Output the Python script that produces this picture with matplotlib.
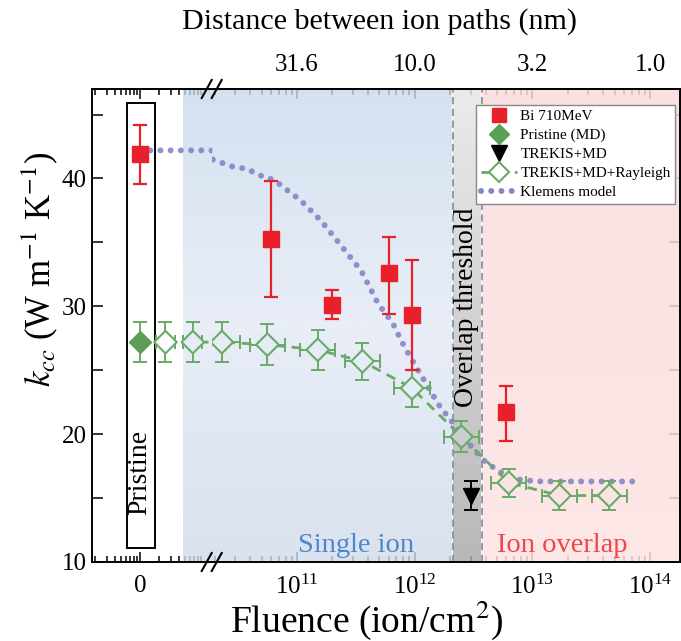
import numpy as np
import matplotlib.pyplot as plt
import matplotlib.colors as mcolors
from matplotlib.lines import Line2D
from matplotlib.patches import Rectangle
from matplotlib.ticker import LogLocator, NullFormatter, MultipleLocator

plt.rcParams['font.family'] = ['Liberation Serif', 'DejaVu Serif']
plt.rcParams['mathtext.fontset'] = 'stix'

# zero fluence (pristine) is drawn at this position of the compressed left segment
F_ZERO = 1e9

# Bi 710 MeV measurements
bi_fluence = [F_ZERO, 6e10, 2e11, 6e11, 9.5e11, 6e12]
bi_k = [41.95, 35.3, 30.1, 32.6, 29.3, 21.7]
bi_lo = [2.35, 4.6, 1.1, 3.2, 4.3, 2.2]
bi_hi = [2.25, 4.5, 1.15, 2.8, 4.3, 2.1]

# Pristine (MD)
md_fluence = [F_ZERO]
md_k = [27.2]
md_err = [1.55]

# TREKIS+MD
tr_fluence = [3e12]
tr_k = [15.2]
tr_err = [1.1]

# TREKIS+MD+Rayleigh
ray_fluence = [2.5e9, 6.7e9, 2.3e10, 5.6e10, 1.5e11, 3.6e11, 9.5e11, 2.5e12, 6.3e12, 1.7e13, 4.5e13]
ray_k = [27.2, 27.2, 27.2, 27.0, 26.6, 25.7, 23.6, 19.8, 16.2, 15.2, 15.2]
ray_err = [1.55, 1.55, 1.55, 1.6, 1.55, 1.45, 1.45, 1.2, 1.1, 1.1, 1.1]
ray_xerr_dec = 0.15

# Klemens model
kl_fluence = [F_ZERO, 1.3e10, 1.9e10, 2.34e10, 2.9e10, 3.5e10, 4.3e10, 5.1e10, 6.3e10, 7.4e10, 8.5e10,
              1.07e11, 1.6e11, 2.3e11, 3.5e11, 4.9e11, 6.5e11, 7.8e11, 9.5e11, 1.3e12, 1.6e12,
              2.1e12, 2.8e12, 3.8e12, 5.0e12, 6.5e12, 8.3e12, 1.2e13, 8.3e13]
kl_k = [42.2, 42.2, 41.5, 41.2, 40.9, 40.8, 40.5, 40.15, 39.9, 39.45, 39.0,
        38.3, 36.7, 34.9, 32.8, 30.2, 28.7, 27.2, 25.8, 23.7, 22.3,
        20.9, 19.4, 18.0, 17.2, 16.6, 16.4, 16.3, 16.3]

# regions
single_start, overlap_start, overlap_end, region_end = 4.7e9, 2.1e12, 3.7e12, 1e15

# top axis: distance between ion paths
dist_fluence = [1e11, 1e12, 1e13, 1e14]
dist_labels = ['31.6', '10.0', '3.2', '1.0']

RED = '#e8202a'
GREEN = '#5b9e55'
GREEN_L = '#6aaa68'
PURPLE = '#8585c8'
BLUE_MID = '#e6ecf5'
GRAY_MID = '#cdcdcd'
PINK = '#fce3e3'

W, H = 681, 641
fig = plt.figure(figsize=(W / 100, H / 100), dpi=100)


def fx(px):
    return px / W


def fy(py):
    return 1 - py / H


x_left, x_break, x_right = 92, 211.7, 680
y_top, y_bot = 89, 562
# left segment made 1 px wider so its shading meets the right segment without a seam
axL = fig.add_axes([fx(x_left), fy(y_bot), fx(x_break + 1 - x_left), (y_bot - y_top) / H])
axR = fig.add_axes([fx(x_break), fy(y_bot), fx(x_right - x_break), (y_bot - y_top) / H], sharey=axL)
axR.patch.set_visible(False)

YMIN, YMAX = 10, 47


def unblend(colors, a):
    c = np.array([mcolors.to_rgb(cc) for cc in colors])
    return np.clip(1 - (1 - c) / a, 0, 1)


def vgradient(ax, x0, x1, colors, alpha):
    # vertical colour gradient, top colour first
    src = unblend(colors, alpha)
    n = 200
    t = np.linspace(0, 1, n)
    pos = np.linspace(0, 1, len(colors))
    rgba = np.zeros((n, 1, 4))
    for ch in range(3):
        rgba[:, 0, ch] = np.interp(t, pos, src[:, ch])
    rgba[:, 0, 3] = alpha
    ax.imshow(rgba, extent=[x0, x1, YMIN, YMAX], aspect='auto', origin='upper',
              zorder=2, interpolation='bilinear')


def face_for(f):
    if f < single_start:
        return 'white'
    if f < overlap_start:
        return BLUE_MID
    if f < overlap_end:
        return GRAY_MID
    return PINK


def draw(ax):
    vgradient(ax, single_start, overlap_start, ['#d4e2f0', '#e9eef7', '#dae2ee'], 0.8)
    vgradient(ax, overlap_start, overlap_end, ['#ebebeb', '#d2d2d2', '#b8b8b8'], 0.85)
    vgradient(ax, overlap_end, region_end, ['#fbe1e1', '#fce4e4', '#fde7e7'], 0.85)
    for xb in (overlap_start, overlap_end):
        ax.axvline(xb, color='#8a939c', lw=1.3, ls=(0, (4, 2.5)), zorder=2.3)

    # Klemens model
    ax.plot(kl_fluence, kl_k, color=PURPLE, lw=4.3, ls=(0, (0.01, 1.7)),
            dash_capstyle='round', alpha=0.9, zorder=3.5)

    # TREKIS+MD+Rayleigh
    rf = np.array(ray_fluence)
    xerr = [rf * (1 - 10 ** -ray_xerr_dec), rf * (10 ** ray_xerr_dec - 1)]
    ax.plot(ray_fluence, ray_k, color=GREEN_L, lw=2, ls=(0, (3.5, 2.5)), zorder=4)
    ax.errorbar(ray_fluence, ray_k, yerr=ray_err, xerr=xerr, fmt='none', ecolor=GREEN_L,
                elinewidth=1.4, capsize=5, capthick=1.4, zorder=4.2)
    ax.scatter(ray_fluence, ray_k, marker='D', s=11.5 ** 2,
               facecolors=[face_for(f) for f in ray_fluence],
               edgecolors=GREEN_L, linewidths=1.5, zorder=4.5)

    # Pristine MD
    ax.errorbar(md_fluence, md_k, yerr=md_err, fmt='D', color=GREEN, ms=11.5,
                elinewidth=1.4, capsize=5, capthick=1.4, ecolor=GREEN_L, zorder=5)
    # TREKIS+MD
    ax.errorbar(tr_fluence, tr_k, yerr=tr_err, fmt='v', color='black', ms=12,
                elinewidth=1.4, capsize=5, capthick=1.4, zorder=5)
    # Bi 710 MeV
    ax.errorbar(bi_fluence, bi_k, yerr=[bi_lo, bi_hi], fmt='s', color=RED, ms=11,
                elinewidth=1.6, capsize=5, capthick=1.6, zorder=6)

    ax.set_xscale('log')
    ax.xaxis.set_minor_locator(LogLocator(base=10, subs=np.arange(2, 10), numticks=30))
    ax.xaxis.set_minor_formatter(NullFormatter())
    ax.tick_params(which='both', direction='in', labelsize=18, width=1.1)
    ax.tick_params(which='major', length=7)
    ax.tick_params(which='minor', length=4.5)
    ax.tick_params(axis='y', which='both', length=8)
    ax.tick_params(axis='x', pad=9)
    for sp in ax.spines.values():
        sp.set_linewidth(1.4)


draw(axL)
draw(axR)

# left segment
axL.set_xlim(F_ZERO * 10 ** (-(140 - x_left) / 64), F_ZERO * 10 ** ((x_break + 1 - 140) / 64))
axL.set_xticks([F_ZERO], labels=['0'])
axL.spines['right'].set_visible(False)
axL.tick_params(axis='x', which='both', top=True)
axL.tick_params(axis='y', which='both', right=False, pad=4)
axL.set_ylim(YMIN, YMAX)
axL.yaxis.set_major_locator(MultipleLocator(10))
axL.yaxis.set_minor_locator(MultipleLocator(5))

axL.add_patch(Rectangle((10 ** 8.8, 11.1), 10 ** 9.234 - 10 ** 8.8, 45.9 - 11.1,
                        fill=False, ec='black', lw=1.4, zorder=2.4))
axL.text(F_ZERO, 17.0, 'Pristine', rotation=90, ha='center', va='center', fontsize=20, zorder=7)

# right segment
dec = (650 - 297) / 3
axR.set_xlim(1e11 * 10 ** (-(297 - x_break) / dec), 1e14 * 10 ** ((x_right - 650) / dec))
axR.set_xticks(dist_fluence)
axR.spines['left'].set_visible(False)
axR.tick_params(axis='y', which='both', left=False, right=True, labelleft=False)
axR.tick_params(axis='x', which='both', top=False)

secx = axR.secondary_xaxis('top', functions=(lambda f: f, lambda f: f))
secx.set_xticks(dist_fluence, labels=dist_labels)
secx.xaxis.set_minor_locator(LogLocator(base=10, subs=np.arange(2, 10), numticks=30))
secx.xaxis.set_minor_formatter(NullFormatter())
secx.tick_params(which='both', direction='in', labelsize=18, width=1.1, pad=9)
secx.tick_params(which='major', length=7)
secx.tick_params(which='minor', length=4.5)
secx.spines['top'].set_linewidth(1.4)

axR.text(3.2e11, 11.3, 'Single ion', color='#4a88cc', fontsize=20.5, ha='center', va='center', zorder=7)
axR.text(1.8e13, 11.3, 'Ion overlap', color='#f04646', fontsize=20.5, ha='center', va='center', zorder=7)
axR.text(2.78e12, 29.9, 'Overlap threshold', rotation=90, fontsize=20, ha='center', va='center', zorder=7)

handles = [
    Line2D([], [], ls='none', marker='s', color=RED, ms=10),
    Line2D([], [], ls='none', marker='D', color=GREEN, ms=10),
    Line2D([], [], ls='none', marker='v', color='black', ms=11),
    Line2D([], [], ls=(0, (3.5, 2.5)), lw=2, color=GREEN_L, marker='D', ms=10,
           mfc='white', mec=GREEN_L, mew=1.5),
    Line2D([], [], ls=(0, (0.01, 1.7)), lw=4.3, color=PURPLE, dash_capstyle='round'),
]
labels = ['Bi 710MeV', 'Pristine (MD)', 'TREKIS+MD', 'TREKIS+MD+Rayleigh', 'Klemens model']
leg = axR.legend(handles, labels, loc='upper right', bbox_to_anchor=(0.99, 0.967), fontsize=11,
                 frameon=True, fancybox=False, edgecolor='#888888', framealpha=1,
                 handlelength=2.4, handletextpad=0.2, labelspacing=0.35, borderpad=0.3,
                 borderaxespad=0)
leg.set_zorder(10)

# axis break marks
for xc in (x_break - 5, x_break + 5):
    for yc in (y_top, y_bot):
        fig.add_artist(Line2D([fx(xc - 5), fx(xc + 5)], [fy(yc + 9), fy(yc - 9)],
                              color='black', lw=1.5, zorder=20))

fig.text(fx(40), fy(269), r'$k_{cc}$ (W m$^{-1}$ K$^{-1}$)', rotation=90, ha='center', va='center', fontsize=25)
fig.text(fx(367), fy(620), 'Fluence (ion/cm$^2$)', ha='center', va='center', fontsize=27)
fig.text(fx(380), fy(22), 'Distance between ion paths (nm)', ha='center', va='center', fontsize=21.6)

fig.savefig('out.png', dpi=100)
